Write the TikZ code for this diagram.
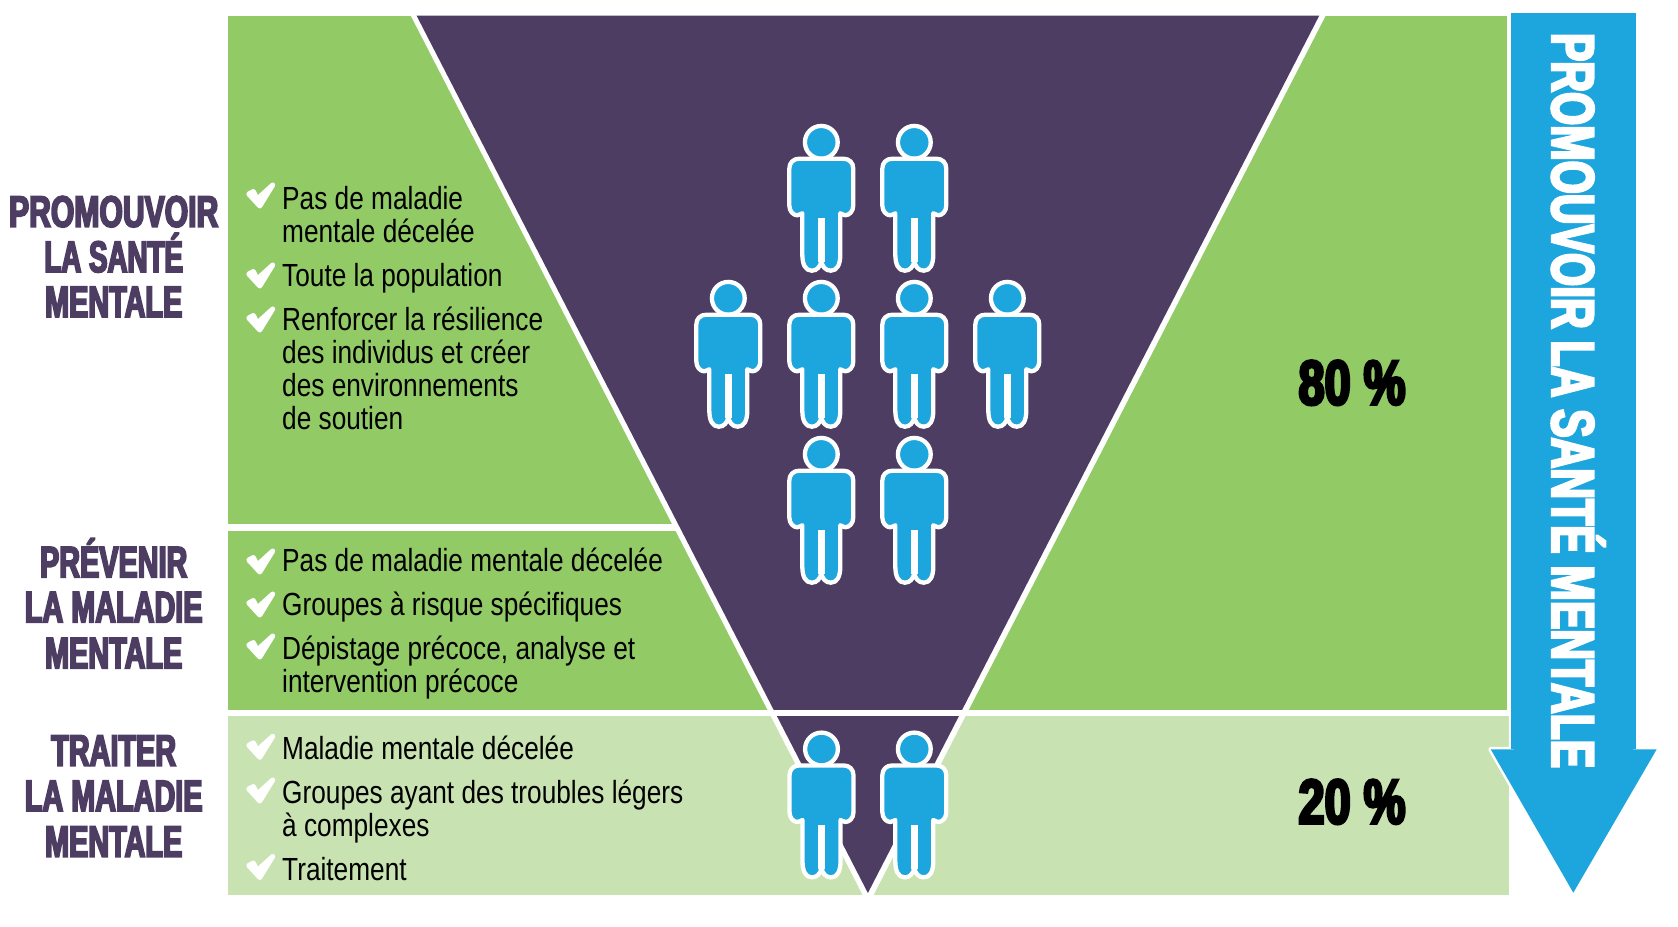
\documentclass[tikz,border=0pt]{standalone}
\usepackage{fontspec}
\setmainfont[FakeStretch=0.82]{Liberation Sans}
\newfontfamily\imp[FakeStretch=0.685,FakeBold=4]{Liberation Sans Bold}
\newfontfamily\impc[FakeStretch=0.655,FakeBold=4]{Liberation Sans Bold}
\newfontfamily\impd[FakeStretch=0.63,FakeBold=4]{Liberation Sans Bold}
\newfontfamily\impa[FakeStretch=0.71,FakeBold=4]{Liberation Sans Bold}
\newfontfamily\impb[FakeStretch=0.745,FakeBold=4.5]{Liberation Sans Bold}
\definecolor{purp}{HTML}{4D3D62}
\definecolor{grn}{HTML}{92CA66}
\definecolor{lgrn}{HTML}{C8E3B1}
\definecolor{blu}{HTML}{1DA5DD}
\tikzset{
  x=1pt,y=-1pt,
  bodytext/.style={anchor=base west,inner sep=0pt,font=\fontsize{32}{33}\selectfont,text=black},
  headtext/.style={anchor=base,inner sep=0pt,font=\impc\fontsize{44}{45}\selectfont,text=purp},
  pcttext/.style={anchor=base,inner sep=0pt,font=\impb\fontsize{63}{64}\selectfont,text=black},
  person/.pic={
    \path[fill=blu,draw=white,line width=4.3pt] (0,0) circle (16.4pt);
    \path[fill=blu,draw=white,line width=4.3pt,line join=round]
      (0,16.4) -- (22,16.4) .. controls (28,16.4) and (32,20.4) .. (32,26.4)
      -- (32,63) .. controls (32,69) and (28,73) .. (24,73)
      .. controls (22,73) and (20,71) .. (19,71)
      -- (19,112) .. controls (19,122) and (16,128.4) .. (9.5,128.4)
      .. controls (4,128.4) and (1,124) .. (0,119)
      .. controls (-1,124) and (-4,128.4) .. (-9.5,128.4)
      .. controls (-16,128.4) and (-19,122) .. (-19,112)
      -- (-19,71) .. controls (-20,71) and (-22,73) .. (-24,73)
      .. controls (-28,73) and (-32,69) .. (-32,63)
      -- (-32,26.4) .. controls (-32,20.4) and (-28,16.4) .. (-22,16.4) -- cycle;
    \path[draw=white,line width=6.6pt] (0,76) -- (0,120);
  },
  tick/.pic={
    \path[fill=white,draw=white,line width=5pt,line cap=round,line join=round]
      (-9.5,-11) -- (-5,-13.5) -- (-1,-6) -- (14.4,-20) -- (1.5,1) -- cycle;
  }
}
\begin{document}
\begin{tikzpicture}
\useasboundingbox (0,0) rectangle (1678,926);
% panels
\fill[grn] (228,15.5) rectangle (1507,709.5);
\fill[lgrn] (228,715.7) rectangle (1508.7,895);
% funnel
\fill[white] (410.7,15.5) -- (1325.7,15.5) -- (873.5,895) -- (862.7,895) -- cycle;
\fill[purp] (416.5,15.5) -- (1319.3,15.5) -- (867.9,893) -- cycle;
% dividers
\fill[white] (228,524) rectangle (678,530.5);
\fill[white] (228,709.5) rectangle (1508.7,715.7);
% arrow
\path[fill=blu,draw=white,line width=5pt,line join=round]
  (1511.3,13) -- (1635.7,13) -- (1635.7,749.3) -- (1656.7,749.3) -- (1573.3,892.7)
  -- (1490.7,749.3) -- (1511.3,749.3) -- cycle;
\fill[blu] (1511.3,13) rectangle (1635.7,749.3);
\path[fill=blu] (1635.7,749.3) -- (1656.7,749.3) -- (1573.3,892.7) -- (1490.7,749.3) -- cycle;
% people
\foreach \px/\py in {821.3/142.3,914.3/142.3,
                     728.3/298.3,821.3/298.3,914.3/298.3,1007.3/298.3,
                     821.3/454.3,914.3/454.3,
                     821.5/749,914.3/749}
  \pic at (\px,\py) {person};
% ticks
\foreach \ty in {205,285,329,571,614,656,756.3,800,876.5}
  \pic at (258.3,\ty) {tick};
% body text
\node[bodytext] (a1) at (282,209) {Pas de maladie};
\node[bodytext] (a2) at (282,242) {mentale décelée};
\node[bodytext] (a3) at (282,286) {Toute la population};
\node[bodytext] (a4) at (282,330) {Renforcer la résilience};
\node[bodytext] (a5) at (282,363.5) {des individus et créer};
\node[bodytext] (a6) at (282,396.4) {des environnements};
\node[bodytext] (a7) at (282,429) {de soutien};
\node[bodytext] (b1) at (282,571.7) {Pas de maladie mentale décelée};
\node[bodytext] (b2) at (282,615.5) {Groupes à risque spécifiques};
\node[bodytext] (b3) at (282,659.8) {Dépistage précoce, analyse et};
\node[bodytext] (b4) at (282,692.7) {intervention précoce};
\node[bodytext] (c1) at (282,759.3) {Maladie mentale décelée};
\node[bodytext] (c2) at (282,803.7) {Groupes ayant des troubles légers};
\node[bodytext] (c3) at (282,836.7) {à complexes};
\node[bodytext] (c4) at (282,880.5) {Traitement};
% headings
\node[headtext,font=\imp\fontsize{44}{45}\selectfont] (h1) at (113.7,226.8) {PROMOUVOIR};
\node[headtext,font=\impd\fontsize{44}{45}\selectfont] (h2) at (113.7,272) {LA SANTÉ};
\node[headtext] (h3) at (113.7,317) {MENTALE};
\node[headtext] (h4) at (113.7,577.3) {PRÉVENIR};
\node[headtext] (h5) at (113.7,622.3) {LA MALADIE};
\node[headtext] (h6) at (113.7,668.3) {MENTALE};
\node[headtext] (h7) at (113.7,765.7) {TRAITER};
\node[headtext] (h8) at (113.7,811) {LA MALADIE};
\node[headtext] (h9) at (113.7,856.7) {MENTALE};
% percentages
\node[pcttext] (p1) at (1352,404.5) {80 \%};
\node[pcttext] (p2) at (1352,823.5) {20 \%};
% arrow text
\node[anchor=base,inner sep=0pt,rotate=-90,text=white,font=\impa\fontsize{60}{64}\selectfont] (r1) at (1552,400.5) {PROMOUVOIR LA SANTÉ MENTALE};
\end{tikzpicture}
\end{document}
